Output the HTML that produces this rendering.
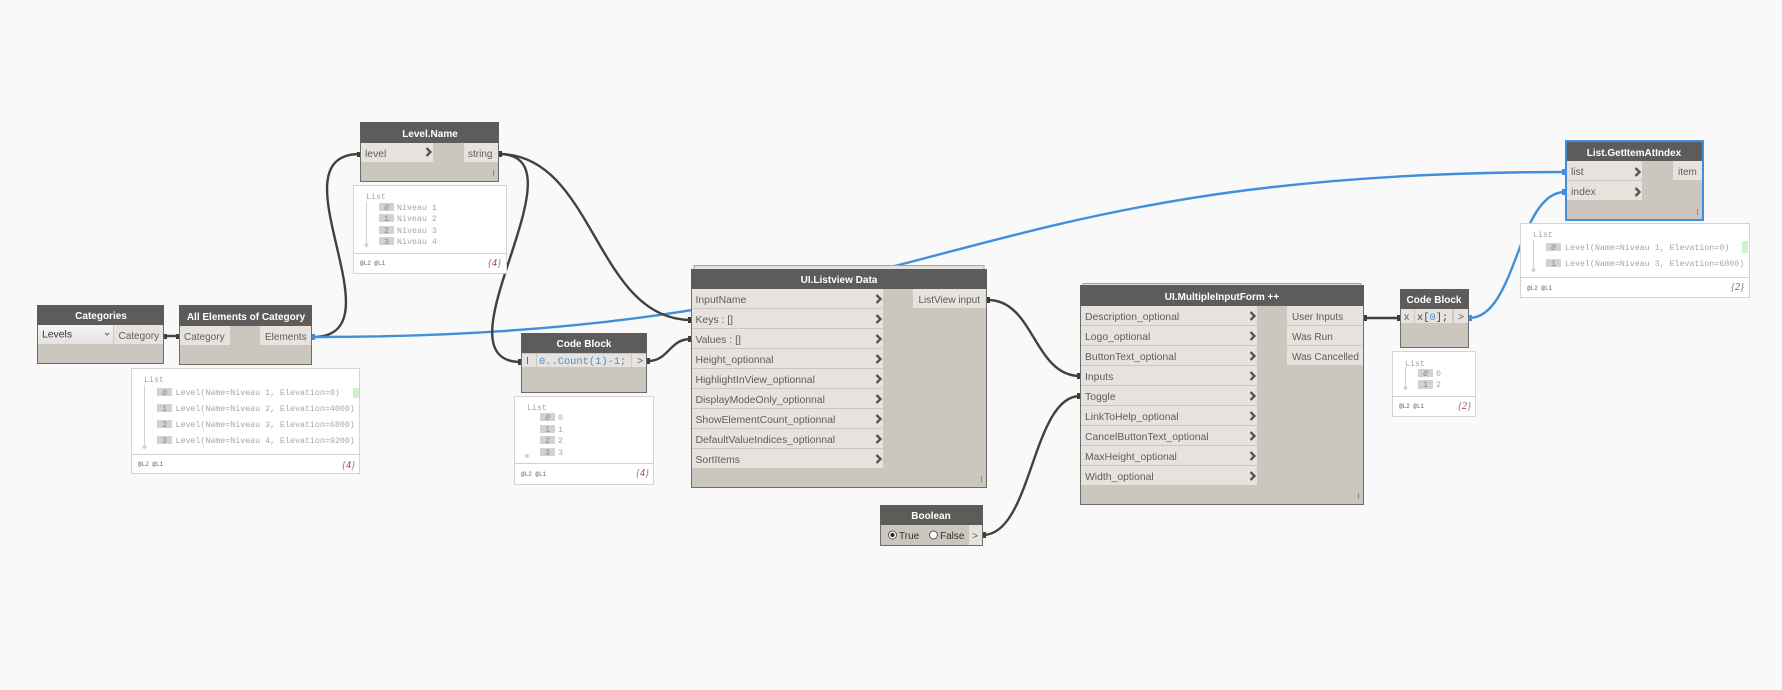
<!DOCTYPE html>
<html><head><meta charset="utf-8"><title>Dynamo graph</title>
<style>
html,body{margin:0;padding:0;background:#f9f9f9;width:1782px;height:690px;overflow:hidden}
svg{display:block;position:absolute;left:0;top:0}
text{font-family:"Liberation Sans",sans-serif;font-size:10.4px;fill:#5f5d5b}
.h{font-weight:bold;font-size:10px;fill:#fff;text-anchor:middle}
.m{font-family:"Liberation Mono",monospace;font-size:8.3px;fill:#a8a5a6}
.b{fill:#cbc6be;stroke:#6e6c68;stroke-width:1}
.hd{fill:#5e5c5a}
.p{fill:#e6e3de}
.w{fill:#fff;stroke:#d4d4d4;stroke-width:1}
.s{fill:#d2d2d2}
.d{fill:none;stroke:#414141;stroke-width:2.4}
.l{fill:none;stroke:#3f8fdc;stroke-width:2.4}
.f{font-family:"Liberation Mono",monospace;font-size:6px;fill:#666}
.c{font-family:"Liberation Serif",serif;font-style:italic;font-size:10px;fill:#777}
.i{font-family:"Liberation Mono",monospace;font-size:8.3px;fill:#888;text-anchor:middle}
.k{font-family:"Liberation Mono",monospace;font-size:10.4px;fill:#4f8ad0}
.r{font-size:10px}
</style></head><body>
<svg width="1782" height="690" viewBox="0 0 1782 690" xmlns="http://www.w3.org/2000/svg">
<defs>
<path id="ch" d="M-2.5,-4 L1.5,0 L-2.5,4" fill="none" stroke="#55534f" stroke-width="2.3"/>
<linearGradient id="dd" x1="0" y1="0" x2="0" y2="1"><stop offset="0" stop-color="#f4f4f4"/><stop offset="1" stop-color="#e2e2e2"/></linearGradient>
</defs>
<rect width="1782" height="690" fill="#f9f9f9"/>

<!-- wires -->
<path class="d" d="M164,336 L179,336"/>
<path class="d" d="M313,337 C403,337 270,154 360,154"/>
<path class="l" d="M313,337 C939,337 939,172 1565,172"/>
<path class="d" d="M499,154 C589,154 431,362 521,362"/>
<path class="d" d="M499,154 C595,154 595,320 691,320"/>
<path class="d" d="M648,361 C669,361 669,339 691,339"/>
<path class="d" d="M988,300 C1034,300 1034,376 1080,376"/>
<path class="d" d="M983,535 C1032,535 1032,396 1080,396"/>
<path class="d" d="M1364,318 L1400,318"/>
<path class="l" d="M1469,318 C1517,318 1517,192 1565,192"/>

<!-- Categories -->
<rect class="b" x="37.5" y="305.5" width="126" height="58"/>
<rect class="hd" x="37" y="305" width="127" height="20"/>
<text class="h" x="101" y="319">Categories</text>
<rect x="38" y="325" width="75" height="19" fill="url(#dd)"/>
<text x="42" y="337.500" style="fill:#333">Levels</text>
<path d="M105,333 l2,2 l2,-2" fill="none" stroke="#666" stroke-width="1"/>
<rect class="p" x="114" y="325" width="49" height="19"/>
<text class="r" x="118.500" y="339">Category</text>

<!-- All Elements -->
<rect class="b" x="179.500" y="305.500" width="132" height="59"/>
<rect class="hd" x="179" y="305" width="133" height="21"/>
<text class="h" x="246" y="320">All Elements of Category</text>
<rect class="p" x="180" y="326" width="50" height="19"/>
<text class="r" x="184" y="340">Category</text>
<rect class="p" x="260" y="326" width="51" height="19"/>
<text class="r" x="265" y="340">Elements</text>

<!-- Watch 1 -->
<rect class="w" x="131.500" y="368.500" width="228" height="105"/>
<rect class="s" x="131" y="454" width="229" height="1"/>
<text class="m" x="144" y="382">List</text>
<rect class="s" x="144" y="385" width="1" height="62"/>
<circle class="s" cx="144.500" cy="447" r="2"/>
<rect class="s" x="157" y="388" width="15" height="8"/><text class="i" x="164.500" y="395" font-style="italic">0</text><text class="m" x="175.500" y="395">Level(Name=Niveau 1, Elevation=0)</text>
<rect class="s" x="157" y="404" width="15" height="8"/><text class="i" x="164.500" y="411">1</text><text class="m" x="175.500" y="411">Level(Name=Niveau 2, Elevation=4000)</text>
<rect class="s" x="157" y="420" width="15" height="8"/><text class="i" x="164.500" y="427">2</text><text class="m" x="175.500" y="427">Level(Name=Niveau 3, Elevation=6800)</text>
<rect class="s" x="157" y="436" width="15" height="8"/><text class="i" x="164.500" y="443">3</text><text class="m" x="175.500" y="443">Level(Name=Niveau 4, Elevation=9200)</text>
<rect x="353" y="388" width="6" height="10" fill="#cdf3cd"/>
<text class="f" x="138" y="466">@L2 @L1</text>
<text class="c" x="342" y="468">{<tspan style="fill:#a33">4</tspan>}</text>

<!-- Level.Name -->
<rect class="b" x="360.500" y="122.500" width="138" height="59"/>
<rect class="hd" x="360" y="122" width="139" height="21"/>
<text class="h" x="430" y="137">Level.Name</text>
<rect class="p" x="361" y="143" width="72" height="19"/>
<text x="365" y="157">level</text>
<use href="#ch" x="429" y="152"/>
<rect class="p" x="464" y="143" width="34" height="19"/>
<text class="r" x="468" y="157">string</text>
<rect x="493" y="170" width="1" height="6" fill="#8d8a85"/>

<!-- Level watch -->
<rect class="w" x="353.500" y="185.500" width="153" height="88"/>
<rect class="s" x="353" y="253" width="154" height="1"/>
<text class="m" x="366" y="199">List</text>
<rect class="s" x="366" y="201" width="1" height="44"/>
<circle class="s" cx="366.500" cy="245" r="2"/>
<rect class="s" x="379" y="203" width="15" height="8"/><text class="i" x="386.500" y="210" font-style="italic">0</text><text class="m" x="397" y="210">Niveau 1</text>
<rect class="s" x="379" y="214" width="15" height="8"/><text class="i" x="386.500" y="221">1</text><text class="m" x="397" y="221">Niveau 2</text>
<rect class="s" x="379" y="226" width="15" height="8"/><text class="i" x="386.500" y="233">2</text><text class="m" x="397" y="233">Niveau 3</text>
<rect class="s" x="379" y="237" width="15" height="8"/><text class="i" x="386.500" y="244">3</text><text class="m" x="397" y="244">Niveau 4</text>
<text class="f" x="360" y="265">@L2 @L1</text>
<text class="c" x="488" y="266">{<tspan style="fill:#a33">4</tspan>}</text>

<!-- Code Block 1 -->
<rect class="b" x="521.500" y="333.500" width="125" height="59"/>
<rect class="hd" x="521" y="333" width="126" height="20"/>
<text class="h" x="584" y="347">Code Block</text>
<rect class="p" x="522" y="354" width="14" height="13"/>
<rect class="p" x="537" y="354" width="94" height="13"/>
<rect class="p" x="632" y="354" width="14" height="13"/>
<text x="526" y="364">I</text>
<text class="k" x="539" y="364">0..Count(1)-1;</text>
<text x="637" y="364">&gt;</text>

<!-- Code watch -->
<rect class="w" x="514.500" y="396.500" width="139" height="88"/>
<rect class="s" x="514" y="463" width="140" height="1"/>
<text class="m" x="527" y="410">List</text>
<circle class="s" cx="527" cy="456" r="2"/>
<rect class="s" x="540" y="413" width="15" height="8"/><text class="i" x="547.500" y="420" font-style="italic">0</text><text class="m" x="558" y="420">0</text>
<rect class="s" x="540" y="425" width="15" height="8"/><text class="i" x="547.500" y="432">1</text><text class="m" x="558" y="432">1</text>
<rect class="s" x="540" y="436" width="15" height="8"/><text class="i" x="547.500" y="443">2</text><text class="m" x="558" y="443">2</text>
<rect class="s" x="540" y="448" width="15" height="8"/><text class="i" x="547.500" y="455">3</text><text class="m" x="558" y="455">3</text>
<text class="f" x="521" y="476">@L2 @L1</text>
<text class="c" x="636" y="476">{<tspan style="fill:#a33">4</tspan>}</text>

<!-- UI.Listview Data -->
<rect x="694" y="265.500" width="290" height="4" fill="#e4e2de" stroke="#a5a39f"/>
<rect class="b" x="691.500" y="269.500" width="295" height="218"/>
<rect class="hd" x="691" y="269" width="296" height="20"/>
<text class="h" x="839" y="283">UI.Listview Data</text>
<g>
<rect class="p" x="692" y="289" width="191" height="19"/><text x="695.500" y="303">InputName</text><use href="#ch" x="879" y="299"/>
<rect class="p" x="692" y="309" width="191" height="19"/><text x="695.500" y="323">Keys : []</text><use href="#ch" x="879" y="319"/>
<rect class="p" x="692" y="329" width="191" height="19"/><text x="695.500" y="343">Values : []</text><use href="#ch" x="879" y="339"/>
<rect class="p" x="692" y="349" width="191" height="19"/><text x="695.500" y="363">Height_optionnal</text><use href="#ch" x="879" y="359"/>
<rect class="p" x="692" y="369" width="191" height="19"/><text x="695.500" y="383">HighlightInView_optionnal</text><use href="#ch" x="879" y="379"/>
<rect class="p" x="692" y="389" width="191" height="19"/><text x="695.500" y="403">DisplayModeOnly_optionnal</text><use href="#ch" x="879" y="399"/>
<rect class="p" x="692" y="409" width="191" height="19"/><text x="695.500" y="423">ShowElementCount_optionnal</text><use href="#ch" x="879" y="419"/>
<rect class="p" x="692" y="429" width="191" height="19"/><text x="695.500" y="443">DefaultValueIndices_optionnal</text><use href="#ch" x="879" y="439"/>
<rect class="p" x="692" y="449" width="191" height="19"/><text x="695.500" y="463">SortItems</text><use href="#ch" x="879" y="459"/>
</g>
<rect class="p" x="913" y="289" width="73" height="19"/>
<text class="r" x="918.500" y="303">ListView input</text>
<rect x="981" y="476" width="1" height="6" fill="#8d8a85"/>

<!-- Boolean -->
<rect class="b" x="880.500" y="505.500" width="102" height="40"/>
<rect class="hd" x="880" y="505" width="103" height="20"/>
<text class="h" x="931" y="519">Boolean</text>
<rect class="p" x="969" y="525" width="13" height="20"/>
<text x="972" y="539">&gt;</text>
<circle cx="892.500" cy="535" r="4" fill="#fff" stroke="#555"/>
<circle cx="892.500" cy="535" r="2" fill="#222"/>
<text class="r" x="899" y="539" style="fill:#333">True</text>
<circle cx="933.500" cy="535" r="4" fill="#fff" stroke="#555"/>
<text class="r" x="940" y="539" style="fill:#333">False</text>

<!-- UI.MultipleInputForm -->
<rect x="1083" y="283.500" width="278" height="2" fill="#e4e2de" stroke="#a5a39f"/>
<rect class="b" x="1080.500" y="285.500" width="283" height="219"/>
<rect class="hd" x="1080" y="285" width="284" height="21"/>
<text class="h" x="1222" y="300">UI.MultipleInputForm ++</text>
<g>
<rect class="p" x="1081" y="306" width="176" height="19"/><text x="1085" y="320">Description_optional</text><use href="#ch" x="1253" y="316"/>
<rect class="p" x="1081" y="326" width="176" height="19"/><text x="1085" y="340">Logo_optional</text><use href="#ch" x="1253" y="336"/>
<rect class="p" x="1081" y="346" width="176" height="19"/><text x="1085" y="360">ButtonText_optional</text><use href="#ch" x="1253" y="356"/>
<rect class="p" x="1081" y="366" width="176" height="19"/><text x="1085" y="380">Inputs</text><use href="#ch" x="1253" y="376"/>
<rect class="p" x="1081" y="386" width="176" height="19"/><text x="1085" y="400">Toggle</text><use href="#ch" x="1253" y="396"/>
<rect class="p" x="1081" y="406" width="176" height="19"/><text x="1085" y="420">LinkToHelp_optional</text><use href="#ch" x="1253" y="416"/>
<rect class="p" x="1081" y="426" width="176" height="19"/><text x="1085" y="440">CancelButtonText_optional</text><use href="#ch" x="1253" y="436"/>
<rect class="p" x="1081" y="446" width="176" height="19"/><text x="1085" y="460">MaxHeight_optional</text><use href="#ch" x="1253" y="456"/>
<rect class="p" x="1081" y="466" width="176" height="19"/><text x="1085" y="480">Width_optional</text><use href="#ch" x="1253" y="476"/>
</g>
<rect class="p" x="1287" y="306" width="76" height="19"/><text class="r" x="1292" y="320">User Inputs</text>
<rect class="p" x="1287" y="326" width="76" height="19"/><text class="r" x="1292" y="340">Was Run</text>
<rect class="p" x="1287" y="346" width="76" height="19"/><text class="r" x="1292" y="360">Was Cancelled</text>
<rect x="1358" y="493" width="1" height="6" fill="#8d8a85"/>

<!-- Code Block 2 -->
<rect class="b" x="1400.500" y="289.500" width="68" height="58"/>
<rect class="hd" x="1400" y="289" width="69" height="20"/>
<text class="h" x="1434" y="303">Code Block</text>
<rect class="p" x="1401" y="309" width="13" height="14"/>
<rect class="p" x="1415" y="309" width="37" height="14"/>
<rect class="p" x="1454" y="309" width="14" height="14"/>
<text x="1404" y="320">x</text>
<text class="k" x="1417" y="320"><tspan style="fill:#444">x[</tspan>0<tspan style="fill:#444">];</tspan></text>
<text x="1458" y="320">&gt;</text>

<!-- Code 2 watch -->
<rect class="w" x="1392.500" y="351.500" width="83" height="65"/>
<rect class="s" x="1392" y="396" width="84" height="1"/>
<text class="m" x="1405" y="366">List</text>
<rect class="s" x="1405" y="367" width="1" height="21"/>
<circle class="s" cx="1405.500" cy="388" r="2"/>
<rect class="s" x="1418" y="369" width="15" height="8"/><text class="i" x="1425.500" y="376" font-style="italic">0</text><text class="m" x="1436" y="376">0</text>
<rect class="s" x="1418" y="380" width="15" height="9"/><text class="i" x="1425.500" y="387">1</text><text class="m" x="1436" y="387">2</text>
<text class="f" x="1399" y="408">@L2 @L1</text>
<text class="c" x="1458" y="409">{<tspan style="fill:#a33">2</tspan>}</text>

<!-- List.GetItemAtIndex -->
<rect x="1566" y="141" width="137" height="79" fill="#cbc6be" stroke="#3f8fdc" stroke-width="2"/>
<rect class="hd" x="1567" y="142" width="135" height="19"/>
<text class="h" x="1634" y="156">List.GetItemAtIndex</text>
<rect class="p" x="1567" y="161" width="75" height="19"/><text x="1571" y="175">list</text><use href="#ch" x="1638" y="172"/>
<rect class="p" x="1567" y="181" width="75" height="19"/><text x="1571" y="195">index</text><use href="#ch" x="1638" y="192"/>
<rect class="p" x="1673" y="161" width="29" height="19"/><text class="r" x="1678" y="175">item</text>
<rect x="1697" y="209" width="1" height="6" fill="#8d8a85"/>

<!-- GetItem watch -->
<rect class="w" x="1520.500" y="223.500" width="229" height="74"/>
<rect class="s" x="1520" y="277" width="230" height="1"/>
<text class="m" x="1533" y="237">List</text>
<rect class="s" x="1533" y="240" width="1" height="30"/>
<circle class="s" cx="1533.500" cy="270" r="2"/>
<rect class="s" x="1546" y="243" width="15" height="8"/><text class="i" x="1553.500" y="250" font-style="italic">0</text><text class="m" x="1565" y="250">Level(Name=Niveau 1, Elevation=0)</text>
<rect class="s" x="1546" y="259" width="15" height="8"/><text class="i" x="1553.500" y="266">1</text><text class="m" x="1565" y="266">Level(Name=Niveau 3, Elevation=6800)</text>
<rect x="1742" y="241" width="6" height="12" fill="#cdf3cd"/>
<text class="f" x="1527" y="290">@L2 @L1</text>
<text class="c" x="1731" y="290">{<tspan style="fill:#a33">2</tspan>}</text>

<!-- port markers -->
<g fill="#3d3d3d">
<rect x="164" y="334" width="3" height="5"/><rect x="176" y="334" width="3" height="5"/>
<rect x="357" y="152" width="3" height="5"/><rect x="499" y="151" width="3" height="6"/>
<rect x="518" y="359" width="3" height="6"/><rect x="647" y="358" width="3" height="6"/>
<rect x="688" y="317" width="3" height="6"/><rect x="688" y="336" width="3" height="6"/>
<rect x="987" y="297" width="3" height="6"/><rect x="1077" y="373" width="3" height="6"/>
<rect x="1077" y="393" width="3" height="6"/><rect x="983" y="532" width="3" height="6"/>
<rect x="1364" y="315" width="3" height="6"/><rect x="1397" y="315" width="3" height="6"/>
</g>
<g fill="#3f8fdc">
<rect x="312" y="334" width="3" height="6"/><rect x="1469" y="315" width="3" height="6"/>
<rect x="1562" y="169" width="3" height="6"/><rect x="1562" y="189" width="3" height="6"/>
</g>
</svg>
</body></html>
